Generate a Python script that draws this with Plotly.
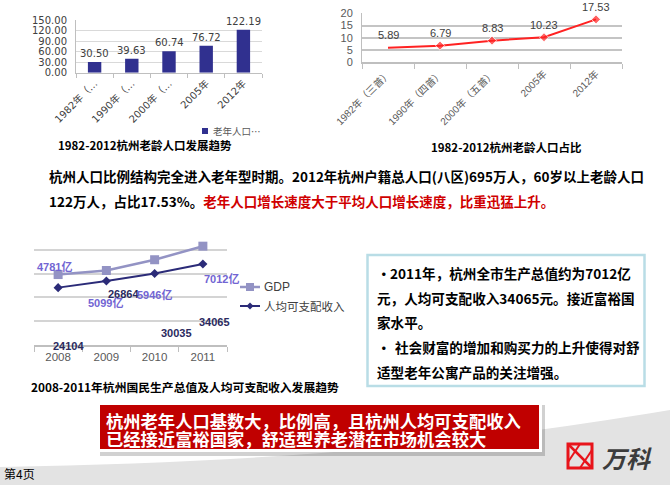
import plotly.graph_objects as go

# ---------------- data ----------------
years_bar = ["1982年（…", "1990年（…", "2000年（…", "2005年", "2012年"]
elderly_pop = [30.50, 39.63, 60.74, 76.72, 122.19]          # 万人

years_line = ["1982年（三普）", "1990年（四普）", "2000年（五普）", "2005年", "2012年"]
elderly_share = [5.89, 6.79, 8.83, 10.23, 17.53]              # %

years_gdp = ["2008", "2009", "2010", "2011"]
gdp = [4781, 5099, 5946, 7012]                                # 亿元
income = [24104, 26864, 30035, 34065]                         # 元

W, H = 670, 485
CJK = "Noto Sans CJK SC"


def X(px):
    return px / W


def Y(py):
    return 1 - py / H


fig = go.Figure()

# chart 1: bars
fig.add_trace(go.Bar(x=years_bar, y=elderly_pop, marker_color="#30308f", width=0.36,
                     xaxis="x", yaxis="y", showlegend=False, hoverinfo="skip"))
# chart 2: line
fig.add_trace(go.Scatter(x=years_line, y=elderly_share, mode="lines+markers",
                         line=dict(color="#ff2222", width=2),
                         marker=dict(symbol="diamond", size=[0, 7, 7, 7, 7], color="#ff2222"),
                         xaxis="x2", yaxis="y2", showlegend=False, hoverinfo="skip"))
# chart 3: GDP & income
fig.add_trace(go.Scatter(x=years_gdp, y=gdp, mode="lines+markers",
                         line=dict(color="#9393c4", width=2.5),
                         marker=dict(symbol="square", size=9, color="#9393c4"),
                         xaxis="x3", yaxis="y4", showlegend=False, hoverinfo="skip"))
fig.add_trace(go.Scatter(x=years_gdp, y=income, mode="lines+markers",
                         line=dict(color="#2b2b78", width=2),
                         marker=dict(symbol="diamond", size=7, color="#2b2b78"),
                         xaxis="x3", yaxis="y3", showlegend=False, hoverinfo="skip"))

ann = []

# bar labels
for c, v in zip(years_bar, elderly_pop):
    ann.append(dict(x=c, y=v, xref="x", yref="y", text=f"{v:.2f}", showarrow=False,
                    yanchor="bottom", yshift=1,
                    font=dict(family="DejaVu Sans", size=10, color="#404040")))
# line labels
for c, v in zip(years_line, elderly_share):
    ann.append(dict(x=c, y=v, xref="x2", yref="y2", text=f"{v:.2f}", showarrow=False,
                    yanchor="middle", yshift=12.5,
                    font=dict(family="Liberation Sans", size=11, color="#404040")))

# chart 3 data labels (placed as in the original slide)
inc_pos = [(68.8, 345.7), (123.8, 294), (176.3, 333.3), (214, 321.7)]
gdp_pos = [(54, 266.7), (105.7, 302.7), (154.7, 294), (221, 278.3)]
for (px, py), v in zip(inc_pos, income):
    ann.append(dict(x=X(px), y=Y(py), xref="paper", yref="paper", text=f"<b>{v}</b>",
                    showarrow=False, xanchor="center", yanchor="middle",
                    font=dict(family="Liberation Sans", size=11, color="#2a2a5e")))
for (px, py), v in zip(gdp_pos, gdp):
    ann.append(dict(x=X(px), y=Y(py), xref="paper", yref="paper", text=f"<b>{v}亿</b>",
                    showarrow=False, xanchor="center", yanchor="middle",
                    font=dict(family="Liberation Sans, " + CJK, size=11, color="#7265d3")))


def txt(px, py, s, size, color="#000000", anchor="left", family=CJK):
    ann.append(dict(x=X(px), y=Y(py), xref="paper", yref="paper", text=s, showarrow=False,
                    xanchor=anchor, yanchor="middle", align=anchor,
                    font=dict(family=family, size=size, color=color)))


# titles
txt(145, 145, "<b>1982-2012杭州老龄人口发展趋势</b>", 11.5, anchor="center")
txt(506, 147, "<b>1982-2012杭州老龄人口占比</b>", 11.5, anchor="center")
txt(185, 386, "<b>2008-2011年杭州国民生产总值及人均可支配收入发展趋势</b>", 11.8, anchor="center")

# legends (manual)
txt(211, 131, "老年人口…", 9.5, color="#595959")
txt(262, 287, "GDP", 12, color="#404040", family="Liberation Sans")
txt(262, 306, "人均可支配收入", 11.5, color="#404040")

# paragraph
txt(47, 176, "<b>杭州人口比例结构完全进入老年型时期。2012年杭州户籍总人口(八区)695万人，60岁以上老龄人口</b>", 13.5)
txt(47, 201, "<b>122万人，占比17.53%。<span style='color:#d00000'>老年人口增长速度大于平均人口增长速度，比重迅猛上升。</span></b>", 13.5)

# box text
txt(375, 273.3, "<b>•</b>", 13.6)
txt(388, 273.3, "<b>2011年，杭州全市生产总值约为7012亿</b>", 13.6)
txt(375, 298.3, "<b>元，人均可支配收入34065元。接近富裕国</b>", 13.6)
txt(375, 321.7, "<b>家水平。</b>", 13.6)
txt(375, 346.7, "<b>•</b>", 13.6)
txt(392.7, 346.7, "<b>社会财富的增加和购买力的上升使得对舒</b>", 13.6)
txt(375, 371.7, "<b>适型老年公寓产品的关注增强。</b>", 13.6)

# red box text
txt(104, 420, "<b>杭州老年人口基数大，比例高，且杭州人均可支配收入</b>", 17.3, color="#ffffff")
txt(104, 438.5, "<b>已经接近富裕国家，舒适型养老潜在市场机会较大</b>", 17.3, color="#ffffff")

# footer
txt(2, 473, "第4页", 12)
txt(627, 457, "<b><i>万科</i></b>", 24, color="#3c3c3c", anchor="center")

shapes = []


def rect(x0, y0, x1, y1, fill=None, line=None, lw=0, layer="above"):
    shapes.append(dict(type="rect", xref="paper", yref="paper", x0=X(x0), x1=X(x1),
                       y0=Y(y1), y1=Y(y0), fillcolor=fill if fill else "rgba(0,0,0,0)",
                       line=dict(color=line if line else "rgba(0,0,0,0)", width=lw), layer=layer))


def seg(x0, y0, x1, y1, color, w):
    shapes.append(dict(type="line", xref="paper", yref="paper", x0=X(x0), x1=X(x1),
                       y0=Y(y0), y1=Y(y1), line=dict(color=color, width=w)))


def path(points, fill, layer="above", curve=None):
    if curve:
        d = curve
    else:
        d = "M " + " L ".join(f"{X(a):.5f},{Y(b):.5f}" for a, b in points) + " Z"
    shapes.append(dict(type="path", xref="paper", yref="paper", path=d, fillcolor=fill,
                       line=dict(width=0), layer=layer))


# gray swoosh background
p0, c1, c2, p3 = (0, 467), (250, 462), (430, 450), (670, 410)
bg = (f"M {X(p0[0]):.5f},{Y(p0[1]):.5f} C {X(c1[0]):.5f},{Y(c1[1]):.5f} "
      f"{X(c2[0]):.5f},{Y(c2[1]):.5f} {X(p3[0]):.5f},{Y(p3[1]):.5f} "
      f"L {X(670):.5f},{Y(485):.5f} L {X(0):.5f},{Y(485):.5f} Z")
path(None, "#e3e3e3", layer="below", curve=bg)

# text box border
rect(367.5, 255, 644.5, 386, line="#b9dde6", lw=2.5)

# red box with white frame and shadow
rect(100, 405, 545, 456, fill="rgba(0,0,0,0.18)")
rect(97, 402, 542, 452, fill="#ffffff")
rect(100, 405, 539, 449, fill="#c00000")

# chart 1 legend square
rect(202, 128, 208, 134, fill="#30308f")
# chart 3 legend keys
seg(240, 287, 260, 287, "#9393c4", 2.5)
rect(246, 283, 254, 291, fill="#9393c4")
seg(240, 306, 260, 306, "#2b2b78", 2)
path([(250, 302.5), (253.5, 306), (250, 309.5), (246.5, 306)], "#2b2b78")

# Vanke logo icon
LR = "#e8141b"
rect(568, 444, 592, 468, line=LR, lw=3)
seg(569, 445, 591, 467, LR, 2.5)
seg(580, 444, 568, 462, LR, 2)
seg(592, 450, 580, 468, LR, 2)

tick_gray = "#bfbfbf"
fig.update_layout(
    template="none",
    width=W, height=H, autosize=False,
    margin=dict(l=0, r=0, t=0, b=0, pad=0, autoexpand=False),
    paper_bgcolor="#ffffff", plot_bgcolor="rgba(0,0,0,0)",
    font=dict(family=CJK, color="#000000"),
    showlegend=False,
    annotations=ann, shapes=shapes,
    xaxis=dict(domain=[X(76), X(262)], anchor="y", type="category", range=[-0.5, 4.5],
               automargin=False,
               showline=True, linecolor=tick_gray, linewidth=1, ticks="outside",
               tickson="boundaries", ticklen=4, tickcolor=tick_gray, tickangle=-45,
               showgrid=False, zeroline=False, fixedrange=True,
               tickfont=dict(family="DejaVu Sans, " + CJK, size=10, color="#404040")),
    yaxis=dict(domain=[Y(72.7), Y(20)], anchor="x", range=[0, 150], dtick=30,
               automargin=False,
               tickformat=".2f", showgrid=True, gridcolor="#d9d9d9", gridwidth=1,
               showline=True, linecolor=tick_gray, zeroline=False, ticks="",
               ticklabelstandoff=6, fixedrange=True,
               tickfont=dict(family="DejaVu Sans", size=10, color="#404040")),
    xaxis2=dict(domain=[X(362), X(622)], anchor="y2", type="category", range=[-0.5, 4.5],
                automargin=False,
                showline=True, linecolor=tick_gray, linewidth=1.5, ticks="outside",
                tickson="boundaries", ticklen=5, tickcolor=tick_gray, tickangle=-45,
                showgrid=False, zeroline=False, fixedrange=True,
                tickfont=dict(family="Liberation Sans, " + CJK, size=10, color="#595959")),
    yaxis2=dict(domain=[Y(62.3), Y(13.3)], anchor="x2", range=[0, 20], dtick=5,
                automargin=False,
                showgrid=True, gridcolor="#c4c4c4", gridwidth=2, zeroline=False,
                showline=True, linecolor=tick_gray, ticks="", ticklabelstandoff=6,
                fixedrange=True,
                tickfont=dict(family="Liberation Sans", size=11, color="#595959")),
    xaxis3=dict(domain=[X(34), X(227)], anchor="y3", type="category", range=[-0.5, 3.5],
                automargin=False,
                showline=True, linecolor=tick_gray, linewidth=1.5, ticks="outside",
                tickson="boundaries", ticklen=5, tickcolor=tick_gray, showgrid=False,
                zeroline=False, fixedrange=True,
                tickfont=dict(family="Liberation Sans", size=11.5, color="#595959")),
    yaxis3=dict(domain=[Y(345), Y(226)], anchor="x3", range=[0, 50000], dtick=10000,
                automargin=False,
                showgrid=True, gridcolor="#d4d4d4", gridwidth=1.5, zeroline=False,
                showline=False, showticklabels=False, ticks="", fixedrange=True),
    yaxis4=dict(overlaying="y3", anchor="x3", range=[-760, 8600], showgrid=False,
                automargin=False,
                zeroline=False, showline=False, showticklabels=False, ticks="",
                fixedrange=True),
)

fig.write_html("out.html", config={"displayModeBar": False})
